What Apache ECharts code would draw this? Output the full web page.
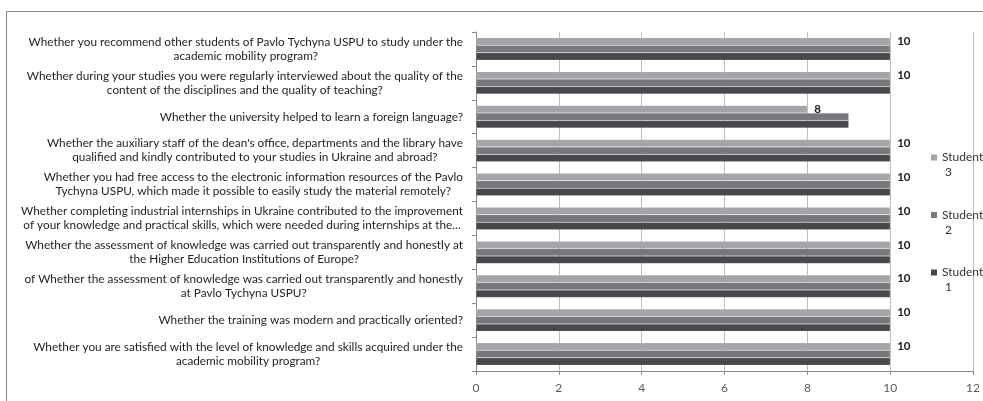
<!DOCTYPE html>
<html><head><meta charset="utf-8">
<script src="https://cdn.jsdelivr.net/npm/echarts@6/dist/echarts.min.js"></script>
<style>html,body{margin:0;padding:0;background:#fff}#c{width:983px;height:401px}</style>
</head><body><div id="c"></div>
<script>
// categories listed bottom-to-top (as drawn by the category axis)
const categories = [
  "Whether you are satisfied with the level of knowledge and skills acquired under the\nacademic mobility program?",
  "Whether the training was modern and practically oriented?",
  "of Whether the assessment of knowledge was carried out transparently and honestly\nat Pavlo Tychyna USPU?",
  "Whether the assessment of knowledge was carried out transparently and honestly at\nthe Higher Education Institutions of Europe?",
  "Whether completing industrial internships in Ukraine contributed to the improvement\nof your knowledge and practical skills, which were needed during internships at the...",
  "Whether you had free access to the electronic information resources of the Pavlo\nTychyna USPU, which made it possible to easily study the material remotely?",
  "Whether the auxiliary staff of the dean's office, departments and the library have\nqualified and kindly contributed to your studies in Ukraine and abroad?",
  "Whether the university helped to learn a foreign language?",
  "Whether during your studies you were regularly interviewed about the quality of the\ncontent of the disciplines and the quality of teaching?",
  "Whether you recommend other students of Pavlo Tychyna USPU to study under the\nacademic mobility program?"
];
const student1 = [10, 10, 10, 10, 10, 10, 10, 9, 10, 10];
const student2 = [10, 10, 10, 10, 10, 10, 10, 9, 10, 10];
const student3 = [10, 10, 10, 10, 10, 10, 10, 8, 10, 10];
const seriesNames = ["Student 1", "Student 2", "Student 3"];
const xTicks = { min: 0, max: 12, interval: 2 };

const FONT = "Lato";
const chart = echarts.init(document.getElementById('c'), null, {renderer: 'canvas'});
const colors = ['#47484b', '#77787c', '#a4a5a8'];
const barBase = (name, data, i) => ({
  name, type: 'bar', data,
  barGap: '0%', barCategoryGap: '34%',
  itemStyle: { color: colors[i], borderColor: 'rgba(255,255,255,0.25)', borderWidth: 0.5 },
  emphasis: { disabled: true },
  label: i === 2 ? { show: true, position: 'right', distance: 7, fontFamily: FONT, fontWeight: 'bold', fontSize: 11.5, color: '#1a1a1a' } : { show: false }
});
chart.setOption({
  animation: false,
  textStyle: { fontFamily: FONT },
  graphic: [{ type: 'rect', shape: { x: 6.5, y: 11.5, width: 1000, height: 420 }, style: { fill: 'none', stroke: '#8a8a8a', lineWidth: 1 }, silent: true }],
  grid: { left: 476, right: 9, top: 32, bottom: 30, containLabel: false },
  legend: {
    orient: 'vertical', left: 931, top: 150, padding: 0, itemGap: 27.5, itemWidth: 6, itemHeight: 21,
    icon: 'path://M0,0H6V6H0Z M0,21',
    itemStyle: { borderWidth: 0 },
    data: ["Student 3", "Student 2", "Student 1"],
    formatter: n => n.replace(' ', '\n '),
    textStyle: { fontFamily: FONT, fontSize: 12, color: '#333', lineHeight: 15, padding: 0 }
  },
  xAxis: {
    type: 'value', min: xTicks.min, max: xTicks.max, interval: xTicks.interval,
    axisLine: { show: true, lineStyle: { color: '#8a8a8a' } },
    axisTick: { show: true, length: 4, lineStyle: { color: '#8a8a8a' } },
    splitLine: { show: true, lineStyle: { color: '#bdbdbd' } },
    axisLabel: { color: '#595959', fontFamily: FONT, fontSize: 12, margin: 11 }
  },
  yAxis: {
    type: 'category', data: categories,
    axisLine: { show: true, lineStyle: { color: '#8a8a8a' } },
    axisTick: { show: true, length: 4, lineStyle: { color: '#8a8a8a' } },
    axisLabel: {
      margin: 13, align: 'right', interval: 0,
      formatter: v => v.split('\n').map(s => '{c|' + s + '}').join('\n'),
      rich: { c: { align: 'center', fontFamily: FONT, fontSize: 11.8, color: '#1f1f1f', lineHeight: 14 } }
    }
  },
  series: [barBase(seriesNames[2], student3, 2), barBase(seriesNames[1], student2, 1), barBase(seriesNames[0], student1, 0)]
});
</script></body></html>
